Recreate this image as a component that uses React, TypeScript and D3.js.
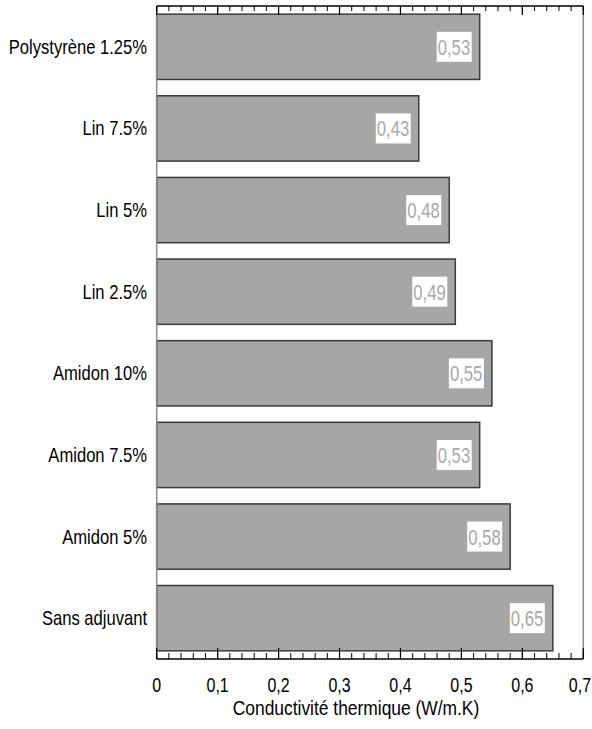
import React from "react";
import * as d3 from "d3";

const categories = [
  "Polystyrène 1.25%",
  "Lin 7.5%",
  "Lin 5%",
  "Lin 2.5%",
  "Amidon 10%",
  "Amidon 7.5%",
  "Amidon 5%",
  "Sans adjuvant",
];
const values = [0.53, 0.43, 0.48, 0.49, 0.55, 0.53, 0.58, 0.65];
const majorTicks = [0, 0.1, 0.2, 0.3, 0.4, 0.5, 0.6, 0.7];
const tickLabels = ["0", "0,1", "0,2", "0,3", "0,4", "0,5", "0,6", "0,7"];
const axisTitle = "Conductivité thermique (W/m.K)";

const W = 592;
const H = 729;
const left = 156.7;
const right = 583.3;
const top = 6;
const bottom = 659;
const FONT = "'Liberation Sans', Arial, sans-serif";

function SText({ x, y, size, anchor, fill, sx = 0.82, children }: any) {
  return (
    <g transform={`translate(${x},${y}) scale(${sx},1)`}>
      <text x={0} y={0} fontSize={size} fontFamily={FONT} textAnchor={anchor} fill={fill}>
        {children}
      </text>
    </g>
  );
}

export default function App() {
  const x = d3.scaleLinear().domain([0, 0.7]).range([left, right]);
  const y = d3
    .scaleBand<string>()
    .domain(categories)
    .range([top, bottom])
    .paddingInner(0.2)
    .paddingOuter(0.1);
  const minor = d3.range(0, 36).map((i) => i * 0.02).filter((v) => v <= 0.7001);
  const fmt = (v: number) => v.toFixed(2).replace(".", ",");

  return (
    <svg
      width={W}
      height={H}
      style={{ position: "absolute", left: 0, top: 0, background: "#fff" }}
    >
      {categories.map((c, i) => {
        const y0 = y(c)!;
        const bw = y.bandwidth();
        const xe = x(values[i]);
        const cy = y0 + bw / 2;
        const boxR = xe - 8;
        const boxW = 35;
        const boxH = 30;
        return (
          <g key={c}>
            <rect
              x={left}
              y={y0}
              width={xe - left}
              height={bw}
              fill="#a6a6a6"
              stroke="#3a3a3a"
              strokeWidth={1.5}
            />
            <rect x={boxR - boxW} y={cy - boxH / 2} width={boxW} height={boxH} fill="#fff" />
            <SText x={boxR - 1.5} y={cy + 8} size={22} sx={0.76} anchor="end" fill="#a8a8a8">
              {fmt(values[i])}
            </SText>
            <SText x={147} y={cy + 7} size={20} sx={0.83} anchor="end" fill="#000">
              {c}
            </SText>
          </g>
        );
      })}

      <line x1={left} x2={left} y1={top} y2={bottom} stroke="#8a8a8a" strokeWidth={1.5} />
      <line x1={right} x2={right} y1={top} y2={bottom} stroke="#8a8a8a" strokeWidth={1.5} />

      <line x1={left} x2={right} y1={top} y2={top} stroke="#000" strokeWidth={1.5} />
      {minor.map((v, i) => (
        <line key={"tm" + i} x1={x(v)} x2={x(v)} y1={top} y2={top + 5} stroke="#000" strokeWidth={1} />
      ))}
      {majorTicks.map((v, i) => (
        <line key={"tM" + i} x1={x(v)} x2={x(v)} y1={top} y2={top + 9} stroke="#000" strokeWidth={1.2} />
      ))}

      <line x1={left} x2={right} y1={bottom} y2={bottom} stroke="#000" strokeWidth={1.5} />
      {minor.map((v, i) => (
        <line key={"bm" + i} x1={x(v)} x2={x(v)} y1={bottom} y2={bottom - 6} stroke="#000" strokeWidth={1} />
      ))}
      {majorTicks.map((v, i) => (
        <line key={"bM" + i} x1={x(v)} x2={x(v)} y1={bottom} y2={bottom - 11} stroke="#000" strokeWidth={1.2} />
      ))}

      {majorTicks.map((v, i) => (
        <SText key={"tl" + i} x={Math.min(x(v), 580)} y={692} size={20} sx={0.8} anchor="middle" fill="#000">
          {tickLabels[i]}
        </SText>
      ))}

      <SText x={356} y={715} size={20} sx={0.87} anchor="middle" fill="#000">
        {axisTitle}
      </SText>
    </svg>
  );
}
